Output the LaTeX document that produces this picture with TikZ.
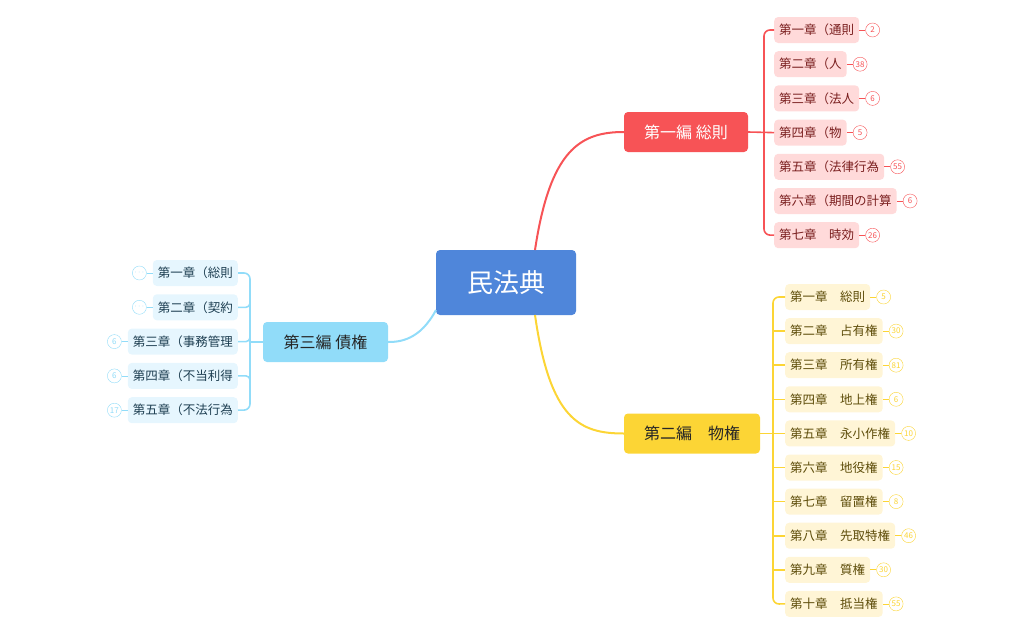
\documentclass[tikz,border=0pt]{standalone}
\usepackage{fontspec}
\setmainfont{Noto Sans CJK JP}
\usetikzlibrary{positioning}
\definecolor{rootc}{HTML}{4F86DA}
\definecolor{redc}{HTML}{F75356}
\definecolor{redl}{HTML}{FFDADA}
\definecolor{redt}{HTML}{7A1F1F}
\definecolor{yelc}{HTML}{FCD535}
\definecolor{yell}{HTML}{FFF5D6}
\definecolor{yelt}{HTML}{5E4D0A}
\definecolor{bluc}{HTML}{91DCF9}
\definecolor{blul}{HTML}{E6F6FE}
\definecolor{blut}{HTML}{1E3F52}
\tikzset{
  chap/.style={rounded corners=4pt, inner sep=5pt, minimum height=26pt, font=\fontsize{12.5}{14}\selectfont},
  num/.style={circle, draw, fill=white, inner sep=0pt, minimum size=14pt, font=\fontsize{8}{9}\selectfont},
  branch/.style={rounded corners=4pt, inner sep=0pt, minimum height=40pt, font=\fontsize{16}{18}\selectfont},
}
\begin{document}
\begin{tikzpicture}[x=1pt,y=-1pt]
\useasboundingbox (0,0) rectangle (1026,635);
% centre
\node[fill=rootc, rounded corners=4pt, minimum width=140pt, minimum height=65pt, text=white,
  font=\fontsize{26}{28}\selectfont] (root) at (506,282.5) {民法典};
\node[branch, fill=redc, text=white, minimum width=124pt] (b1) at (686,132) {第一編 総則};
\node[branch, fill=yelc, text=black!85, minimum width=136pt] (b2) at (692,433.5) {第二編　物権};
\node[branch, fill=bluc, text=black!85, minimum width=125pt] (b3) at (325.5,342) {第三編 債権};
\draw[redc, line width=2pt] (535,250) .. controls (550,150) and (580,132) .. (b1.west);
\draw[yelc, line width=2pt] (535,315) .. controls (550,420) and (580,433.5) .. (b2.west);
\draw[bluc, line width=2pt] (436,310) .. controls (420,340) and (400,342) .. (b3.east);

% 第一編
\foreach \t/\n [count=\i] in {第一章（通則/2, 第二章（人/38, 第三章（法人/6, 第四章（物/5,
    第五章（法律行為/55, 第六章（期間の計算/6, 第七章　時効/26} {
  \node[chap, fill=redl, text=redt, anchor=west] (r\i) at (774,{30+34.2*(\i-1)}) {\t};
  \node[num, draw=redc, text=redc, right=6pt of r\i] (rn\i) {\n};
  \draw[redc, thick] (r\i) -- (rn\i);
}
\draw[redc, line width=1.6pt, rounded corners=6pt] (r1.west) -- (764,30) -- (764,235) -- (r7.west);
\draw[redc, line width=1.6pt] (b1.east) -- (r4.west);

% 第二編
\foreach \t/\n [count=\i] in {第一章　総則/5, 第二章　占有権/30, 第三章　所有権/81, 第四章　地上権/6,
    第五章　永小作権/10, 第六章　地役権/15, 第七章　留置権/8, 第八章　先取特権/46,
    第九章　質権/30, 第十章　抵当権/55} {
  \node[chap, fill=yell, text=yelt, anchor=west] (y\i) at (785,{297+34.1*(\i-1)}) {\t};
  \node[num, draw=yelc, text=yelc, right=6pt of y\i] (yn\i) {\n};
  \draw[yelc, thick] (y\i) -- (yn\i);
}
\draw[yelc, line width=1.6pt, rounded corners=6pt] (y1.west) -- (773,297) -- (773,604) -- (y10.west);
\foreach \i in {2,...,9} \draw[yelc, line width=1.6pt] (773,{297+34.1*(\i-1)}) -- (y\i.west);
\draw[yelc, line width=1.6pt] (b2.east) -- (773,433.5);

% 第三編
\foreach \t/\n [count=\i] in {第一章（総則/{\raisebox{1pt}{$\cdots$}}, 第二章（契約/{\raisebox{1pt}{$\cdots$}},
    第三章（事務管理/6, 第四章（不当利得/6, 第五章（不法行為/17} {
  \node[chap, fill=blul, text=blut, anchor=east] (c\i) at (238,{273+34.3*(\i-1)}) {\t};
  \node[num, draw=bluc, text=bluc, left=6pt of c\i] (cn\i) {\n};
  \draw[bluc, thick] (c\i) -- (cn\i);
}
\draw[bluc, line width=1.6pt, rounded corners=6pt] (c1.east) -- (250,273) -- (250,410) -- (c5.east);
\foreach \i in {2,...,4} \draw[bluc, line width=1.6pt, rounded corners=4pt] (250,{273+34.3*(\i-1)+(\i<3?-6:(\i>3?6:0))}) -- (250,{273+34.3*(\i-1)}) -- (c\i.east);
\draw[bluc, line width=1.6pt] (b3.west) -- (250,342);
\end{tikzpicture}
\end{document}
